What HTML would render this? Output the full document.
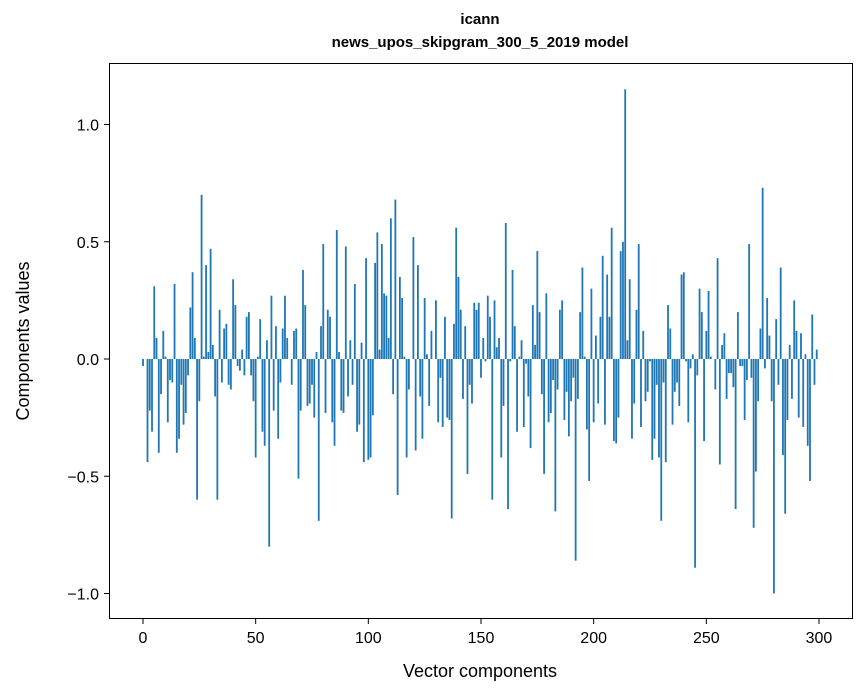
<!DOCTYPE html>
<html><head><meta charset="utf-8"><style>
body{margin:0;background:#fff;}
svg{display:block;font-family:"Liberation Sans","DejaVu Sans",sans-serif;}
</style></head><body>
<svg id="chart" width="867" height="696" viewBox="0 0 867 696" xmlns="http://www.w3.org/2000/svg">
<rect width="867" height="696" fill="#fff"/>
<text x="480" y="24" text-anchor="middle" font-size="15" font-weight="bold">icann</text>
<text x="480" y="47" text-anchor="middle" font-size="15" font-weight="bold">news_upos_skipgram_300_5_2019 model</text>
<g id="bars"></g>
<rect x="109.5" y="63.5" width="743" height="555" fill="none" stroke="#000" stroke-width="1"/>
<g id="xticks"></g>
<g id="yticks"></g>
<text x="480" y="677" text-anchor="middle" font-size="18">Vector components</text>
<text transform="translate(29,341) rotate(-90)" text-anchor="middle" font-size="18">Components values</text>
</svg>
<script>
const values = [
-0.03,0.0,-0.44,-0.22,-0.31,0.31,0.09,-0.40,-0.15,0.12,
0.01,-0.27,-0.09,-0.10,0.32,-0.40,-0.34,-0.11,-0.28,-0.23,
-0.07,0.22,0.37,0.09,-0.60,-0.18,0.70,0.01,0.40,0.03,
0.47,0.06,-0.16,-0.60,0.21,-0.10,0.13,0.15,-0.11,-0.13,
0.34,0.23,-0.03,-0.05,0.04,-0.07,0.18,0.20,-0.07,-0.18,
-0.42,0.01,0.17,-0.31,-0.37,0.08,-0.80,0.27,-0.22,0.14,
-0.34,-0.10,0.13,0.27,0.09,0.0,-0.11,0.12,0.13,-0.51,
-0.22,0.38,0.23,-0.20,-0.19,-0.11,-0.25,0.03,-0.69,0.14,
0.49,-0.23,0.21,0.18,-0.27,-0.37,0.55,0.03,-0.22,-0.23,
0.48,-0.16,0.08,-0.11,0.32,-0.31,-0.28,0.07,-0.44,0.43,
-0.43,-0.42,-0.24,0.41,0.54,0.04,0.49,0.28,0.27,0.09,
0.60,-0.15,0.68,-0.58,0.35,0.26,0.01,-0.42,-0.13,0.0,
0.52,-0.39,0.40,-0.16,-0.34,0.26,0.02,-0.20,0.12,0.0,
0.25,-0.27,-0.08,-0.29,0.18,-0.25,-0.26,-0.68,0.15,0.56,
0.35,0.21,-0.17,0.14,-0.49,-0.11,-0.19,0.24,0.21,0.24,
-0.08,0.09,-0.01,0.27,0.18,-0.60,0.25,0.05,0.09,-0.42,
-0.20,0.58,-0.64,-0.01,0.38,0.14,-0.31,0.01,0.08,-0.29,
-0.02,-0.16,-0.38,0.23,0.06,0.46,0.20,-0.15,-0.49,0.28,
-0.27,-0.23,-0.09,-0.65,-0.13,0.21,0.25,-0.26,-0.14,-0.33,
-0.18,-0.08,-0.86,-0.17,0.20,0.39,0.01,-0.30,-0.52,0.30,
-0.27,0.10,-0.19,0.18,0.44,-0.28,0.36,0.18,0.56,-0.35,
-0.36,-0.25,0.46,0.50,1.15,0.08,0.34,-0.34,-0.19,0.21,
0.49,-0.29,0.12,-0.18,-0.14,-0.01,-0.43,-0.34,-0.11,-0.42,
-0.69,-0.10,-0.44,0.23,0.13,-0.28,-0.14,-0.10,-0.20,0.36,
0.37,-0.01,-0.27,-0.04,0.02,-0.89,-0.07,0.30,0.20,-0.35,
0.12,0.29,0.01,0.0,-0.13,0.43,-0.45,0.06,0.11,-0.17,
-0.06,-0.06,-0.12,-0.64,0.20,-0.03,-0.03,-0.26,-0.09,0.49,
-0.08,-0.72,-0.48,-0.18,0.13,0.73,-0.04,0.26,0.10,-0.18,
-1.00,0.17,-0.11,0.39,-0.41,-0.66,-0.26,0.06,-0.17,0.25,
0.12,-0.25,0.11,-0.29,0.02,-0.37,-0.52,0.19,-0.11,0.04
];
const xTicks = [0,50,100,150,200,250,300];
const yTicks = [-1.0,-0.5,0.0,0.5,1.0];
const yTickLabels = ["\u22121.0","\u22120.5","0.0","0.5","1.0"];

const NS = "http://www.w3.org/2000/svg";
function xs(v){ return 143 + v*2.2533; }
function ys(v){ return 359 - v*234.5; }

const barsG = document.getElementById('bars');
values.forEach((v,i)=>{
  const r = document.createElementNS(NS,'rect');
  
  
  const y0 = ys(0), y1 = ys(v);
  r.setAttribute('x', xs(i-0.4));
  r.setAttribute('width', 0.8*2.2533);
  r.setAttribute('y', Math.min(y0,y1));
  r.setAttribute('height', Math.max(Math.abs(y1-y0),0.01));
  r.setAttribute('fill', '#1f77b4');
  barsG.appendChild(r);
});

const xg = document.getElementById('xticks');
xTicks.forEach(t=>{
  const l = document.createElementNS(NS,'line');
  
  
  l.setAttribute('x1', xs(t)); l.setAttribute('x2', xs(t));
  l.setAttribute('y1', 619); l.setAttribute('y2', 624);
  l.setAttribute('stroke', '#000');
  xg.appendChild(l);
  const tx = document.createElementNS(NS,'text');
  
  
  tx.setAttribute('x', xs(t)); tx.setAttribute('y', 643);
  tx.setAttribute('text-anchor', 'middle'); tx.setAttribute('font-size', '16');
  tx.textContent = t;
  xg.appendChild(tx);
});
const yg = document.getElementById('yticks');
yTicks.forEach((t,i)=>{
  const l = document.createElementNS(NS,'line');
  
  
  l.setAttribute('x1', 104); l.setAttribute('x2', 109);
  l.setAttribute('y1', ys(t)); l.setAttribute('y2', ys(t));
  l.setAttribute('stroke', '#000');
  yg.appendChild(l);
  const tx = document.createElementNS(NS,'text');
  
  
  tx.setAttribute('x', 99); tx.setAttribute('y', ys(t)+6);
  tx.setAttribute('text-anchor', 'end'); tx.setAttribute('font-size', '16');
  tx.textContent = yTickLabels[i];
  yg.appendChild(tx);
});
</script>
</body></html>
